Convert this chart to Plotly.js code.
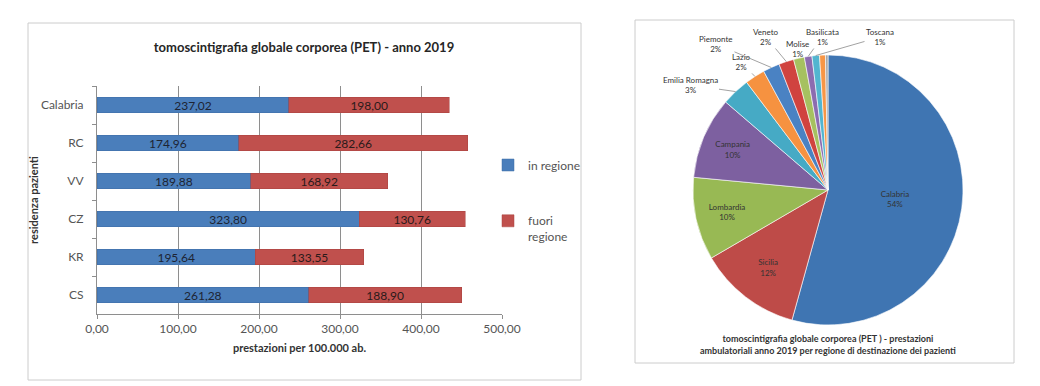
<!DOCTYPE html>
<html>
<head>
<meta charset="utf-8">
<script src="https://cdn.plot.ly/plotly-3.0.1.min.js"></script>
<style>
  html, body { margin: 0; padding: 0; background: #ffffff; }
  #chart { width: 1040px; height: 386px; }
</style>
</head>
<body>
<div id="chart"></div>
<script>
// ---- data: bar chart ----
const residenza = ['Calabria', 'RC', 'VV', 'CZ', 'KR', 'CS'];
const inRegione = [237.02, 174.96, 189.88, 323.80, 195.64, 261.28];
const fuoriRegione = [198.00, 282.66, 168.92, 130.76, 133.55, 188.90];

// ---- data: pie chart (share of services by destination region, %) ----
const regioniDestinazione = ['Calabria', 'Sicilia', 'Lombardia', 'Campania', 'Emilia Romagna',
  'Lazio', 'Piemonte', 'Veneto', 'Molise', 'Basilicata', 'Toscana', 'Puglia', 'altre'];
const quote = [54.3, 12.3, 9.9, 9.8, 3.4, 2.4, 2.0, 1.8, 1.3, 0.9, 0.9, 0.7, 0.3];

// ---- styles / layout ----
const FONT = 'Lato, "Open Sans", "Liberation Sans", sans-serif';
const TXT = '#3a3a3a';
const pieColors = ['#3F75B2', '#BE4B48', '#98B954', '#7D60A0', '#46AAC5', '#F69240',
  '#4A82C3', '#D0433F', '#A6C160', '#8C6CB0', '#52B5D0', '#F79646', '#A5A5A5'];
const pieTextPos = ['inside', 'inside', 'inside', 'inside', 'none', 'none', 'none',
  'none', 'none', 'none', 'none', 'none', 'none'];
// placement (page px) of the callout labels of the small slices
const calloutPos = {
  'Emilia Romagna': [690, 85], 'Lazio': [741, 62], 'Piemonte': [716, 44],
  'Veneto': [766, 37], 'Molise': [797, 49], 'Basilicata': [822, 37], 'Toscana': [880, 37]
};

const W = 1040, H = 386;
const px = v => v / W;
const py = v => 1 - v / H;

// pie geometry (page px)
const PIE = { x0: 693, x1: 963, y0: 55, y1: 325 };
const pieCx = (PIE.x0 + PIE.x1) / 2, pieCy = (PIE.y0 + PIE.y1) / 2;
const pieR = Math.min(PIE.x1 - PIE.x0, PIE.y1 - PIE.y0) / 2;

const total = quote.reduce((a, b) => a + b, 0);
const callouts = [];
let cum = 0;
regioniDestinazione.forEach((name, i) => {
  const v = quote[i];
  const mid = (cum + v / 2) / total * 2 * Math.PI; // clockwise from 12 o'clock
  cum += v;
  if (!calloutPos[name]) return;
  const hx = pieCx + pieR * Math.sin(mid);
  const hy = pieCy - pieR * Math.cos(mid);
  const [lx, ly] = calloutPos[name];
  callouts.push({
    xref: 'paper', yref: 'paper', x: px(hx), y: py(hy),
    ax: lx - hx, ay: ly - hy, axref: 'pixel', ayref: 'pixel',
    showarrow: true, arrowhead: 0, arrowwidth: 0.8, arrowcolor: '#8a8a8a', standoff: 0,
    text: name + '<br>' + Math.round(v / total * 100) + '%',
    font: { family: FONT, size: 8, color: '#333333' }, align: 'center'
  });
});

const traces = [
  {
    type: 'bar', orientation: 'h', name: 'in regione',
    y: residenza, x: inRegione,
    marker: { color: '#4A7EBB', line: { color: '#3D6CA5', width: 0.5 } },
    texttemplate: '%{x:.2f}',
    textposition: 'inside', insidetextanchor: 'middle', constraintext: 'none',
    textfont: { family: FONT, size: 12, color: '#1d2433' },
    legend: 'legend', hoverinfo: 'x+y'
  },
  {
    type: 'bar', orientation: 'h', name: 'fuori<br>regione',
    y: residenza, x: fuoriRegione,
    marker: { color: '#C0504D', line: { color: '#A8423F', width: 0.5 } },
    texttemplate: '%{x:.2f}',
    textposition: 'inside', insidetextanchor: 'middle', constraintext: 'none',
    textfont: { family: FONT, size: 12, color: '#2a1a1a' },
    legend: 'legend2', hoverinfo: 'x+y'
  },
  {
    type: 'pie', labels: regioniDestinazione, values: quote,
    sort: false, direction: 'clockwise', rotation: 0,
    marker: { colors: pieColors, line: { color: '#ffffff', width: 0.6 } },
    texttemplate: '%{label}<br>%{percent:.0%}',
    textposition: pieTextPos,
    insidetextorientation: 'horizontal',
    textfont: { family: FONT, size: 8, color: '#333333' },
    showlegend: false,
    domain: { x: [px(PIE.x0), px(PIE.x1)], y: [py(PIE.y1), py(PIE.y0)] }
  }
];

const layout = {
  width: W, height: H,
  margin: { l: 0, r: 0, t: 0, b: 0 },
  paper_bgcolor: '#ffffff', plot_bgcolor: '#ffffff',
  font: { family: FONT, size: 12, color: TXT },
  separators: ',.',
  barmode: 'stack', bargap: 0.6,
  title: {
    text: '<b>tomoscintigrafia globale corporea (PET) - anno 2019</b>',
    font: { family: FONT, size: 13, color: '#262626' },
    x: px(304), xanchor: 'center', xref: 'paper',
    y: py(47), yanchor: 'middle', yref: 'paper'
  },
  xaxis: {
    domain: [px(97), px(502)],
    range: [0, 500], dtick: 100, tickformat: '.2f',
    showgrid: true, gridcolor: '#8e8e8e', gridwidth: 1,
    showline: true, linecolor: '#8e8e8e', linewidth: 1,
    ticks: 'outside', ticklen: 4, tickcolor: '#8e8e8e',
    zeroline: false, fixedrange: true,
    tickfont: { family: FONT, size: 12, color: '#555555' },
    title: { text: '<b>prestazioni per 100.000 ab.</b>', standoff: 8,
      font: { family: FONT, size: 11, color: '#333333' } }
  },
  yaxis: {
    domain: [py(314), py(86)],
    autorange: 'reversed', type: 'category',
    showgrid: false, showline: true, linecolor: '#8e8e8e', linewidth: 1,
    ticks: 'outside', tickson: 'boundaries', ticklen: 4, tickcolor: '#8e8e8e',
    ticklabelstandoff: 10, fixedrange: true,
    tickfont: { family: FONT, size: 12, color: '#555555' },
    title: { text: '<b>residenza pazienti</b>', standoff: 0,
      font: { family: FONT, size: 11, color: '#333333' } }
  },
  legend: {
    x: px(488), xanchor: 'left', y: py(165), yanchor: 'middle',
    bgcolor: 'rgba(0,0,0,0)', itemwidth: 30,
    font: { family: FONT, size: 12, color: '#555555' }
  },
  legend2: {
    x: px(488), xanchor: 'left', y: py(229), yanchor: 'middle', valign: 'top',
    bgcolor: 'rgba(0,0,0,0)', itemwidth: 30,
    font: { family: FONT, size: 12, color: '#555555' }
  },
  shapes: [
    { type: 'rect', xref: 'paper', yref: 'paper',
      x0: px(28), x1: px(581), y0: py(380), y1: py(23),
      line: { color: '#cccccc', width: 1 } },
    { type: 'rect', xref: 'paper', yref: 'paper',
      x0: px(635), x1: px(1014), y0: py(363), y1: py(20),
      line: { color: '#cccccc', width: 1 } }
  ],
  annotations: [
    { xref: 'paper', yref: 'paper', x: px(828), y: py(344),
      xanchor: 'center', yanchor: 'middle', showarrow: false,
      text: '<b>tomoscintigrafia globale corporea (PET ) - prestazioni<br>ambulatoriali anno 2019 per regione di destinazione dei pazienti</b>',
      font: { family: FONT, size: 9, color: '#333333' } }
  ].concat(callouts)
};

Plotly.newPlot('chart', traces, layout, { displayModeBar: false, staticPlot: true });
</script>
</body>
</html>
